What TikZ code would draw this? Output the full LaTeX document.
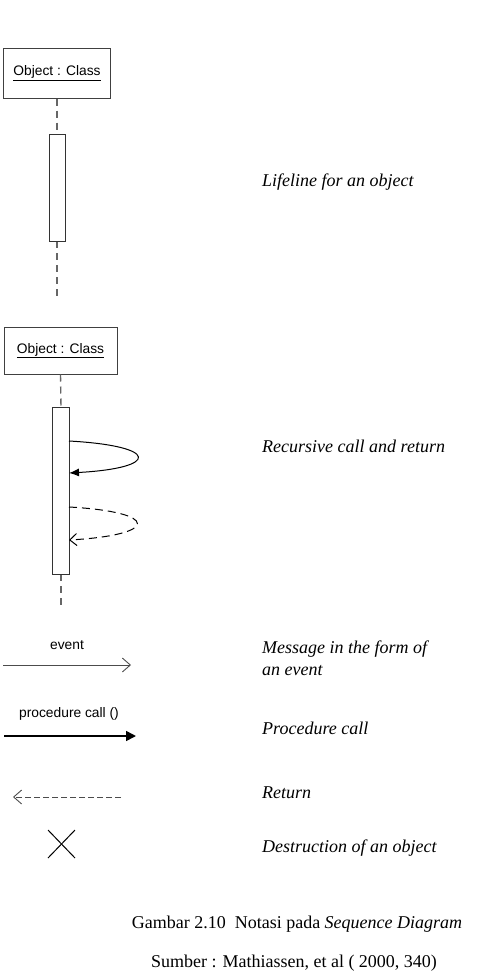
\documentclass[tikz,border=0pt]{standalone}
\usepackage{fontspec}
\setmainfont{Liberation Serif}
\setsansfont{Liberation Sans}
\usetikzlibrary{arrows.meta}
\begin{document}
\begin{tikzpicture}[x=1pt,y=-1pt,
  objbox/.style={draw=black!75,line width=1pt,fill=white,inner sep=0pt,font=\sffamily\fontsize{13.8}{15}\selectfont},
  life/.style={draw=black!60,line width=1.4pt,dash pattern=on 7pt off 5pt},
  actbox/.style={draw=black!80,line width=1pt,fill=white},
  lbl/.style={anchor=base west,inner sep=0pt,font=\itshape\fontsize{18}{20}\selectfont},
  msg/.style={anchor=base,inner sep=0pt,font=\sffamily\fontsize{13.8}{15}\selectfont},
  captext/.style={anchor=base,inner sep=0pt,font=\fontsize{18}{20}\selectfont}]
\useasboundingbox (0,0) rectangle (489,977);
% ---- lifeline 1
\node[objbox,minimum width=107pt,minimum height=50pt] (o1) at (57,73) {\underline{Object : Class}};
\coordinate (l1a) at (57,134);
\coordinate (l1b) at (57,241);
\coordinate (l1e) at (57,300);
\draw[life] (o1.south) -- (l1a);
\draw[life] (l1b) -- (l1e);
\node[actbox,minimum width=16pt,minimum height=107pt,inner sep=0pt] (a1) at (57,187.5) {};
% ---- lifeline 2
\node[objbox,minimum width=113pt,minimum height=47pt] (o2) at (60.5,350.5) {\underline{Object : Class}};
\coordinate (l2e) at (61,607);
\draw[life] (o2.south) -- (61,407);
\draw[life] (61,574) -- (l2e);
\node[actbox,minimum width=17pt,minimum height=167pt,inner sep=0pt] (a2) at (60.5,490.5) {};
\coordinate (r1s) at (69,441);
\coordinate (r1e) at (69,473);
\coordinate (r2s) at (69,507);
\coordinate (r2e) at (69,540);
\draw[line width=1pt,-{Latex[length=10pt,width=8pt]}] (r1s) .. controls (160,446) and (160,468) .. (r1e);
\draw[line width=1pt,dash pattern=on 8pt off 5pt,-{Straight Barb[length=7pt,width=12pt]}] (r2s) .. controls (160,512) and (160,535) .. (r2e);
% ---- messages
\node[msg] (ev) at (67,649) {event};
\coordinate (e1) at (3,665);
\coordinate (e2) at (131,665);
\draw[line width=0.9pt,black!70,-{Straight Barb[length=8pt,width=14pt]}] (e1) -- (e2);
\node[msg] (pc) at (69,717) {procedure call ()};
\coordinate (p1) at (4,736);
\coordinate (p2) at (136,736);
\draw[line width=1.6pt,-{Triangle[length=10pt,width=10pt]}] (p1) -- (p2);
\coordinate (q1) at (121,797);
\coordinate (q2) at (13,797);
\draw[line width=0.9pt,black!70,dash pattern=on 6pt off 3pt,-{Straight Barb[length=8pt,width=14pt]}] (q1) -- (q2);
\coordinate (x1) at (48,830);
\coordinate (x2) at (75,858);
\coordinate (x3) at (75,830);
\coordinate (x4) at (48,858);
\draw[line width=1pt] (x1) -- (x2);
\draw[line width=1pt] (x3) -- (x4);
% ---- labels
\node[lbl] (t1) at (262,186) {Lifeline for an object};
\node[lbl] (t2) at (262,452) {Recursive call and return};
\node[lbl] (t3) at (262,653) {Message in the form of};
\node[lbl] (t4) at (262,675) {an event};
\node[lbl] (t5) at (262,734) {Procedure call};
\node[lbl] (t6) at (262,798) {Return};
\node[lbl] (t7) at (262,852) {Destruction of an object};
% ---- caption
\node[captext] (c1) at (297,928) {Gambar 2.10\ \ Notasi pada \textit{Sequence Diagram}};
\node[captext] (c2) at (294,967) {Sumber : Mathiassen, et al ( 2000, 340)};
\end{tikzpicture}
\end{document}
